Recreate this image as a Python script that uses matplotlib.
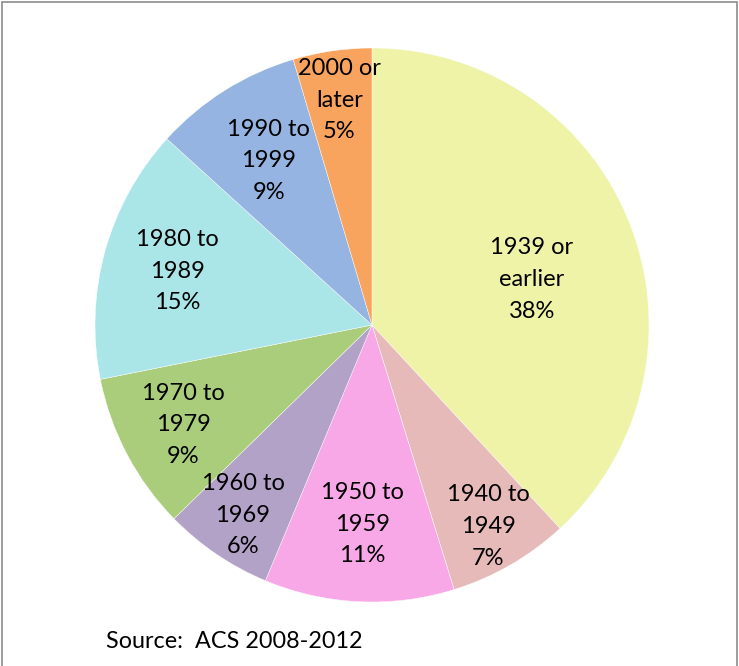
import numpy as np
import matplotlib.pyplot as plt
from matplotlib.patches import Rectangle

# DATA
labels = ['1939 or\nearlier', '1940 to\n1949', '1950 to\n1959', '1960 to\n1969',
          '1970 to\n1979', '1980 to\n1989', '1990 to\n1999', '2000 or\nlater']
values = [38.2, 7.1, 11.1, 6.4, 9.2, 14.9, 8.7, 4.6]
colors = ['#EEF3A7', '#E6BAB9', '#F8A8E6', '#B2A2C8', '#AACD7B', '#AAE6E8', '#95B4E1', '#F9A45E']
label_r = [0.60, 0.84, 0.72, 0.83, 0.77, 0.73, 0.70, 0.82]
label_da = [-5.5, 0, 0, 0, 0, 0, 0, 0]

plt.rcParams['font.family'] = ['Lato', 'DejaVu Sans']

fig = plt.figure(figsize=(7.39, 6.66), dpi=100)
ax = fig.add_axes([0, 0, 1, 1])

cx, cy, R = 372, 666 - 325, 277
wedges, _ = ax.pie(values, colors=colors, startangle=90, counterclock=False,
                   center=(cx, cy), radius=R,
                   wedgeprops=dict(edgecolor='white', linewidth=0.3))

total = sum(values)
for w, lab, v, r, da in zip(wedges, labels, values, label_r, label_da):
    mid = np.deg2rad((w.theta1 + w.theta2) / 2 + da)
    x = cx + r * R * np.cos(mid)
    y = cy + r * R * np.sin(mid)
    ax.text(x, y, f'{lab}\n{v / total * 100:.0f}%', ha='center', va='center',
            fontsize=17, linespacing=1.62, color='black')

ax.set_xlim(0, 739)
ax.set_ylim(0, 666)
ax.set_aspect('equal')
ax.axis('off')

ax.text(106, 666 - 642, 'Source:  ACS 2008-2012', ha='left', va='center', fontsize=16.8)

# FRAME
fig.patches.append(Rectangle((2 / 739, -0.05), 735 / 739, 1.05 - 2 / 666, transform=fig.transFigure,
                             fill=False, edgecolor='#8c8c8c', linewidth=1.2))

fig.savefig('out.png', dpi=100)
